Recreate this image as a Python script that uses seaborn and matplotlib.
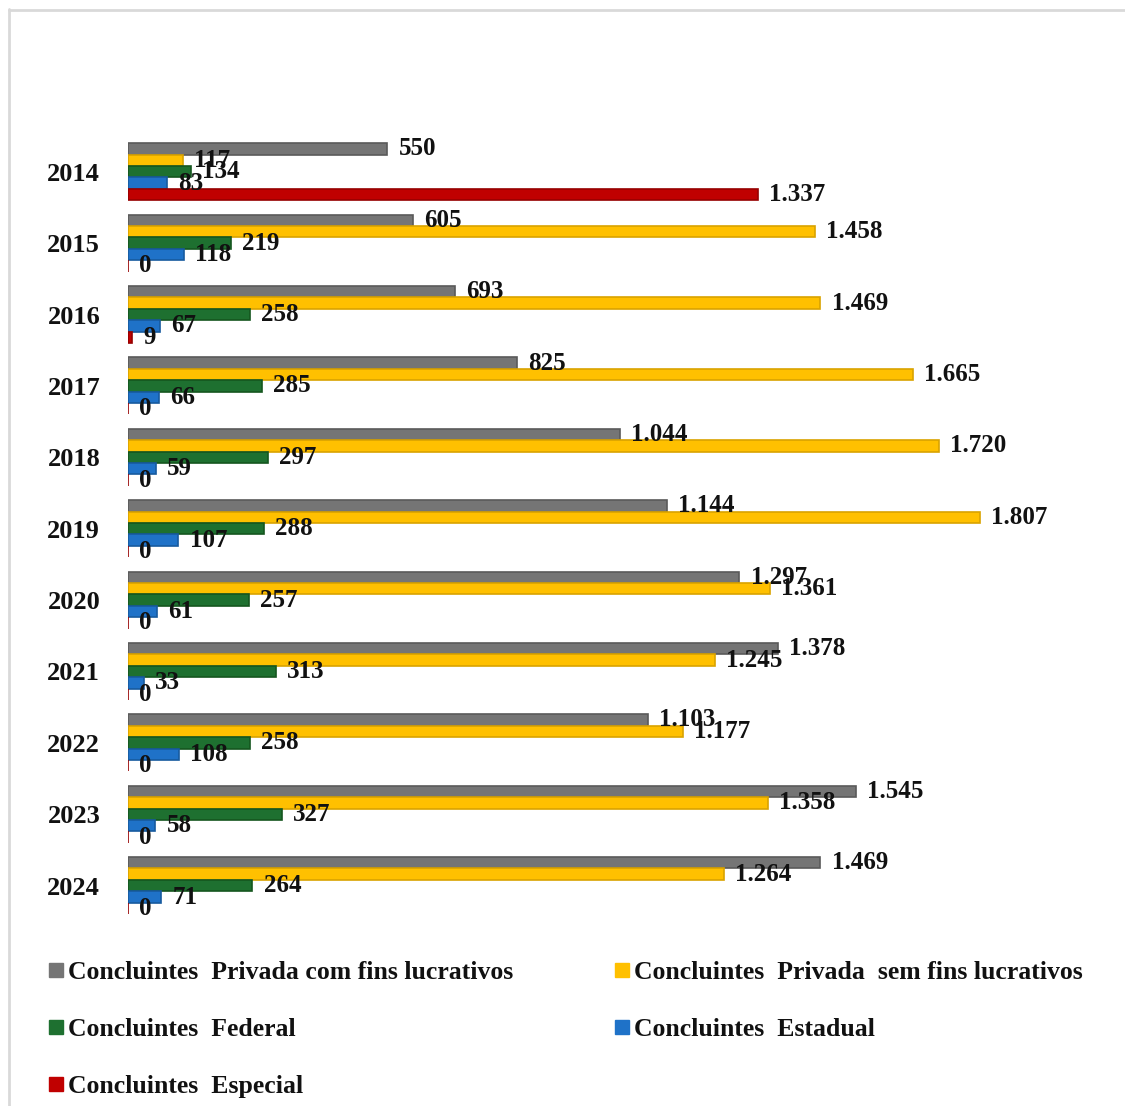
import numpy as np
import pandas as pd
import matplotlib.pyplot as plt
import seaborn as sns
from matplotlib.lines import Line2D
from matplotlib.font_manager import FontProperties

# ── data ───────────────────────────────────────────────────────────────────────
years = ['2014', '2015', '2016', '2017', '2018', '2019', '2020', '2021', '2022', '2023', '2024']
series = ['Concluintes  Privada com fins lucrativos',
          'Concluintes  Privada  sem fins lucrativos',
          'Concluintes  Federal',
          'Concluintes  Estadual',
          'Concluintes  Especial']
privada_com = [550, 605, 693, 825, 1044, 1144, 1297, 1378, 1103, 1545, 1469]
privada_sem = [117, 1458, 1469, 1665, 1720, 1807, 1361, 1245, 1177, 1358, 1264]
federal     = [134, 219, 258, 285, 297, 288, 257, 313, 258, 327, 264]
estadual    = [83, 118, 67, 66, 59, 107, 61, 33, 108, 58, 71]
especial    = [1337, 0, 9, 0, 0, 0, 0, 0, 0, 0, 0]

colors = ['#757575', '#ffc000', '#1e7030', '#1f72c8', '#c00000']
edges  = ['#5a5a5a', '#d9a300', '#15561f', '#175a9e', '#960000']

values = [privada_com, privada_sem, federal, estadual, especial]
df = pd.DataFrame({
    'ano':   np.tile(years, len(series)),
    'valor': np.concatenate(values),
    'serie': np.repeat(series, len(years)),
})

sns.set_theme(style='white')
plt.rcParams['font.family'] = ['Liberation Serif', 'DejaVu Serif']
plt.rcParams['text.color'] = '#111111'

fig = plt.figure(figsize=(11.25, 11.06), dpi=100)
ax = fig.add_axes([0.1138, 0.167, 0.838, 0.710])

sns.barplot(data=df, x='valor', y='ano', hue='serie', hue_order=series,
            order=years, orient='h', palette=colors, width=0.8,
            saturation=1, ax=ax, legend=False)

for cont, ec in zip(ax.containers, edges):
    for bar in cont:
        bar.set_edgecolor(ec)
        bar.set_linewidth(1.2)
    labels = [f'{int(v):,}'.replace(',', '.') for v in cont.datavalues]
    ax.bar_label(cont, labels=labels, padding=8, fontsize=18,
                 fontweight='bold', color='#111111')

ax.set_xlim(0, 2000)
ax.set_ylim(10.5, -0.5)
ax.set_xlabel('')
ax.set_ylabel('')
ax.set_xticks([])
ax.tick_params(axis='y', length=0, pad=20)
for lbl in ax.get_yticklabels():
    lbl.set_fontsize(19)
    lbl.set_fontweight('bold')
    lbl.set_color('#111111')
for s in ax.spines.values():
    s.set_visible(False)

# legend, row-major order in two columns
handles = [Line2D([0], [0], marker='s', linestyle='', markersize=10,
                  markerfacecolor=c, markeredgecolor=c) for c in colors]
order = [0, 2, 4, 1, 3]
legend_font = FontProperties(family='Liberation Serif', weight='bold', size=18.5)
fig.legend([handles[i] for i in order], [series[i] for i in order],
           loc='upper left', bbox_to_anchor=(0.022, 0.152), ncol=2,
           frameon=False, handlelength=0.6, handletextpad=0.2,
           columnspacing=3.9, labelspacing=1.32, prop=legend_font,
           labelcolor='#111111')

# light frame on the left and top
fig.add_artist(Line2D([9 / 1125, 9 / 1125], [0, 1 - 9 / 1106],
                      transform=fig.transFigure, color='#d9d9d9', lw=2))
fig.add_artist(Line2D([9 / 1125, 1], [1 - 10 / 1106, 1 - 10 / 1106],
                      transform=fig.transFigure, color='#d9d9d9', lw=2))

plt.savefig('out.png', dpi=100)
